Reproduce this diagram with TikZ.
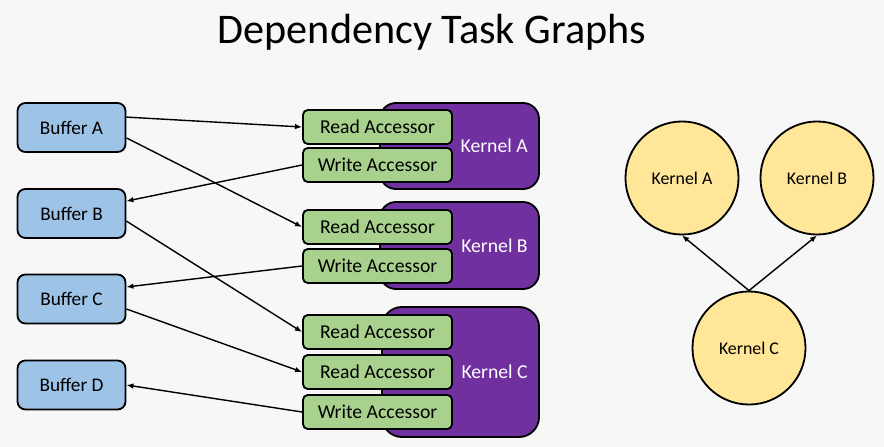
\documentclass[tikz,border=0pt]{standalone}
\usepackage{fontspec}
\setmainfont{Carlito}
\usetikzlibrary{arrows.meta}
\usetikzlibrary{positioning}

\definecolor{bgcol}{HTML}{F7F7F7}
\definecolor{bufcol}{HTML}{9DC3E6}
\definecolor{acccol}{HTML}{A9D18E}
\definecolor{kercol}{HTML}{7030A0}
\definecolor{circcol}{HTML}{FFE699}

\begin{document}
\begin{tikzpicture}[x=0.025cm, y=-0.025cm,
		buffer/.style={draw, line width=1.3pt, fill=bufcol, rounded corners=0.2cm,
			minimum width=2.7cm, minimum height=1.225cm, font=\fontsize{13.7}{16}\selectfont},
		accessor/.style={draw, line width=1.3pt, fill=acccol, rounded corners=0.12cm,
			minimum width=3.725cm, minimum height=0.85cm, font=\fontsize{14}{16}\selectfont},
		kernel/.style={draw, line width=1.3pt, fill=kercol, rounded corners=0.4cm},
		klabel/.style={text=white, inner sep=0pt, font=\fontsize{14}{16}\selectfont},
		task/.style={draw, circle, line width=1.3pt, fill=circcol, minimum size=2.825cm,
			inner sep=1pt, font=\fontsize{12.7}{15}\selectfont},
		dep/.style={line width=1pt, -{Latex[length=5pt,width=4pt]}}]
		\fill[bgcol] (0,0) rectangle (884,447);
		
		\node[font=\fontsize{30}{36}\selectfont, anchor=base] (title) at (432,43) {Dependency Task Graphs};
		
		% buffers
		\node[buffer] (bA) at (71.5,127.5) {Buffer A};
		\node[buffer] (bB) at (71.5,213.5) {Buffer B};
		\node[buffer] (bC) at (71.5,299) {Buffer C};
		\node[buffer] (bD) at (71.5,385) {Buffer D};
		
		% kernels
		\node[kernel, minimum width=3.975cm, minimum height=2.15cm] (kA) at (459.5,146) {};
		\node[kernel, minimum width=3.975cm, minimum height=2.175cm] (kB) at (459.5,245.5) {};
		\node[kernel, minimum width=3.925cm, minimum height=3.25cm, rounded corners=0.5cm] (kC) at (460.5,372) {};
		\node[klabel, left=0.3cm of kA.east] (lA) {Kernel A};
		\node[klabel, left=0.3cm of kB.east] (lB) {Kernel B};
		\node[klabel, left=0.3cm of kC.east] (lC) {Kernel C};
		
		% accessors
		\node[accessor] (rA) at (377.5,127) {Read Accessor};
		\node[accessor] (wA) at (377.5,165) {Write Accessor};
		\node[accessor] (rB) at (377.5,227) {Read Accessor};
		\node[accessor] (wB) at (377.5,266) {Write Accessor};
		\node[accessor] (rC1) at (377.5,332) {Read Accessor};
		\node[accessor] (rC2) at (377.5,372) {Read Accessor};
		\node[accessor] (wC) at (377.5,412) {Write Accessor};
		
		% buffer <-> accessor
		\draw[dep] ([yshift=0.26cm]bA.east) -- (rA.west);
		\draw[dep] ([yshift=-0.26cm]bA.east) -- (rB.west);
		\draw[dep] (wA.west) -- ([yshift=0.31cm]bB.east);
		\draw[dep] ([yshift=-0.19cm]bB.east) -- (rC1.west);
		\draw[dep] (wB.west) -- ([yshift=0.3cm]bC.east);
		\draw[dep] ([yshift=-0.25cm]bC.east) -- (rC2.west);
		\draw[dep] (wC.west) -- (bD.east);
		
		% task graph
		\node[task] (tA) at (682,178) {Kernel A};
		\node[task] (tB) at (817,178) {Kernel B};
		\node[task] (tC) at (749,348) {Kernel C};
		\draw[dep] (tC.north) -- (tA.south);
		\draw[dep] (tC.north) -- (tB.south);
		
\end{tikzpicture}
\end{document}
